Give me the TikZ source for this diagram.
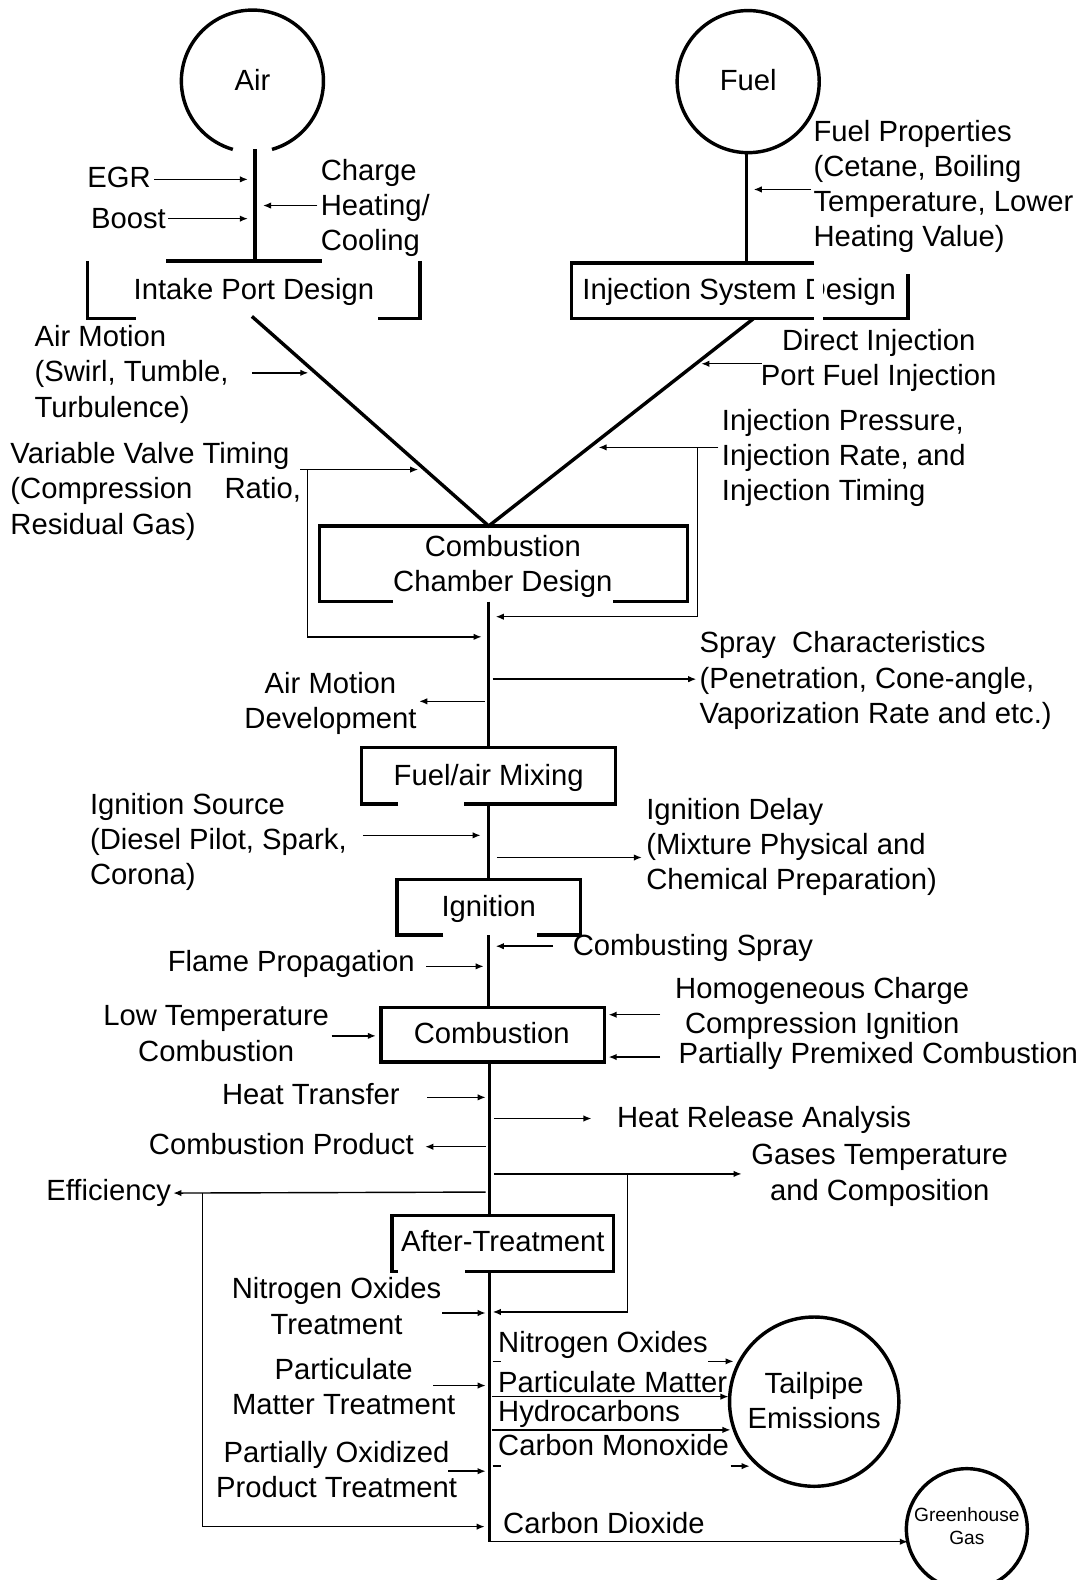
\documentclass[tikz,border=0pt]{standalone}
\usepackage{fontspec}
\setmainfont{Liberation Sans}
\usetikzlibrary{arrows.meta}
\begin{document}
\begin{tikzpicture}[x=0.5pt,y=-0.5pt,
  thick line/.style={line width=1.7pt},
  thin line/.style={line width=0.7pt},
  thin arrow/.style={line width=0.7pt,-{Latex[length=4pt,width=3.2pt]}},
  lbl/.style={inner sep=0pt,font=\fontsize{14.5}{17.5}\selectfont},
  lblL/.style={lbl,align=left,anchor=base west},
  lblR/.style={lbl,align=right,anchor=base east},
  lblC/.style={lbl,align=center,anchor=base},
  ring/.style={circle,draw,thick line,inner sep=0pt}]
\useasboundingbox (0,0) rectangle (1081,1568);
\clip (0,0) rectangle (1081,1568);
% ---- Air ----
\coordinate (airc) at (250.5,80.5);
\draw[thick line] ([shift={(286:35.25pt)}]airc) arc[start angle=286,end angle=614,radius=35.25pt];
\node[lblC] (air) at (250.5,90) {Air};
\draw[thick line] (253,148) -- (253,259);
\draw[thick line] (165,259) -- (320,259);
\draw[thick line] (87,259) -- (87,316) -- (135,316);
\draw[thick line] (417,259) -- (417,316) -- (375,316);
\node[lblC] (intake) at (252,297) {Intake Port Design};
\node[lblR] (egr) at (150,186) {EGR};
\node[lblR] (boost) at (165,227) {Boost};
\node[lblL] (charge) at (318,249) {Charge\\Heating/\\Cooling};
\draw[thin arrow] (153,178) -- (246,178);
\draw[thin arrow] (167,217) -- (246,217);
\draw[thin arrow] (315,204) -- (261,204);
% ---- Fuel ----
\node[ring,minimum size=70.5pt] (fuelc) at (742.5,81) {};
\node[lblC] (fuel) at (742.5,90) {Fuel};
\draw[thick line] (741,151) -- (741,261);
\node[lblL] (fprop) at (807,245) {Fuel Properties\\(Cetane, Boiling\\Temperature, Lower\\Heating Value)};
\draw[thin arrow] (805,188) -- (748,188);
\draw[thick line] (808,261) -- (567,261) -- (567,316) -- (808,316);
\draw[thick line] (817,316) -- (901,316) -- (901,272);
\node[lblC] (inj) at (733.5,297) {Injection System Design};
\fill[white] (808,263) rectangle (817,320);
% ---- V ----
\draw[thick line] (250,314) -- (485,522) -- (748,316);
\node[lblL] (amot) at (34,414) {Air Motion\\(Swirl, Tumble,\\Turbulence)};
\draw[thin arrow] (250,370) -- (306,370);
\node[lblL] (vvt) at (10,530) {Variable Valve Timing\\(Compression\hspace{16pt}Ratio,\\Residual Gas)};
\draw[thin arrow] (298,466) -- (415,466);
\draw[thin arrow] (305,466) -- (305,632) -- (478,632);
\node[lblC] (dinj) at (872,383) {Direct Injection\\Port Fuel Injection};
\draw[thin arrow] (756,361) -- (696,361);
\node[lblL] (ipress) at (716,497) {Injection Pressure,\\Injection Rate, and\\Injection Timing};
\draw[thin arrow] (713,444) -- (594,444);
\draw[thin arrow] (692,444) -- (692,612) -- (492,612);
% ---- Combustion chamber ----
\draw[thick line] (390,597) -- (317,597) -- (317,522) -- (682,522) -- (682,597) -- (608,597);
\node[lblC] (ccd) at (499,587) {Combustion\\Chamber Design};
\draw[thick line] (485,597) -- (485,742);
\node[lblL] (spray) at (694,718) {Spray\hspace{4pt} Characteristics\\(Penetration, Cone-angle,\\Vaporization Rate and etc.)};
\draw[thin arrow] (489,674) -- (691,674);
\node[lblC] (amdev) at (328,723) {Air Motion\\Development};
\draw[thin arrow] (481,696) -- (416,696);
% ---- Mixing ----
\draw[thick line] (395,798) -- (359,798) -- (359,742) -- (611,742) -- (611,798) -- (460,798);
\node[lblC] (mix) at (485,780) {Fuel/air Mixing};
\draw[thick line] (485,798) -- (485,873);
\node[lblL] (isrc) at (89,878) {Ignition Source\\(Diesel Pilot, Spark,\\Corona)};
\draw[thin arrow] (360,829) -- (477,829);
\node[lblL] (idelay) at (641,883) {Ignition Delay\\(Mixture Physical and\\Chemical Preparation)};
\draw[thin arrow] (493,851) -- (637,851);
% ---- Ignition ----
\draw[thick line] (440,928) -- (394,928) -- (394,873) -- (576,873) -- (576,928) -- (533,928);
\node[lblC] (ign) at (485,910) {Ignition};
\draw[thick line] (485,928) -- (485,1000);
\node[lblL] (cspray) at (568,948) {Combusting Spray};
\draw[thin arrow] (549,939) -- (492,939);
\node[lblR] (flame) at (412,964) {Flame Propagation};
\draw[thin arrow] (423,959) -- (480,959);
% ---- Combustion ----
\draw[thick line] (378,1000) rectangle (600,1054);
\node[lblC] (comb) at (488,1036) {Combustion};
\node[lblC] (hcci) at (816,1026) {Homogeneous Charge\\Compression Ignition};
\node[lblL] (ppc) at (673,1055) {Partially Premixed Combustion};
\draw[thin arrow] (655,1007) -- (604,1007);
\draw[thin arrow] (655,1049) -- (604,1049);
\node[lblC] (ltc) at (214.5,1053) {Low Temperature\\Combustion};
\draw[thin arrow] (329,1028) -- (373,1028);
\draw[thick line] (486,1054) -- (486,1206);
\node[lblL] (htrans) at (220,1096) {Heat Transfer};
\draw[thin arrow] (424,1089) -- (482,1089);
\node[lblL] (hrel) at (612,1119) {Heat Release Analysis};
\draw[thin arrow] (490,1110) -- (587,1110);
\node[lblR] (cprod) at (411,1146) {Combustion Product};
\draw[thin arrow] (482,1138) -- (422,1138);
\node[lblC] (gtemp) at (873,1191) {Gases Temperature\\and Composition};
\draw[thin arrow] (490,1165) -- (736,1165);
\draw[thin arrow] (623,1165) -- (623,1302) -- (489,1302);
\node[lblR] (eff) at (170,1191) {Efficiency};
\draw[thin arrow] (482,1183) -- (172,1184);
\draw[thin arrow] (201,1184) -- (201,1515) -- (481,1515);
% ---- After-treatment ----
\draw[thick line] (395,1262) -- (389,1262) -- (389,1206) -- (609,1206) -- (609,1262) -- (461,1262);
\node[lblC] (after) at (499,1242) {After-Treatment};
\draw[thick line] (486,1262) -- (486,1530);
\node[lblC] (noxt) at (334,1324) {Nitrogen Oxides\\Treatment};
\draw[thin arrow] (439,1303) -- (482,1303);
\node[lblC] (pmt) at (341,1404) {Particulate\\Matter Treatment};
\draw[thin arrow] (430,1375) -- (482,1375);
\node[lblC] (pot) at (334,1486) {Partially Oxidized\\Product Treatment};
\draw[thin arrow] (445,1460) -- (482,1460);
% ---- Emissions ----
\node[ring,minimum size=84pt] (tail) at (808,1391) {};
\node[lblC] (tailt) at (808,1418) {Tailpipe\\Emissions};
\node[lblL] (nox) at (494,1342) {Nitrogen Oxides};
\node[lblL] (pm) at (494,1382) {Particulate Matter};
\node[lblL] (hc) at (494,1411) {Hydrocarbons};
\node[lblL] (co) at (494,1444) {Carbon Monoxide};
\node[lblL] (co2) at (499,1522) {Carbon Dioxide};
\draw[thin line] (489,1351) -- (497,1351);
\draw[thin arrow] (703,1351) -- (728,1351);
\draw[thin arrow] (488,1386) -- (723,1386);
\draw[thin arrow] (488,1419) -- (725,1419);
\draw[thin line] (489,1455) -- (497,1455);
\draw[thin arrow] (725,1455) -- (744,1455);
\node[ring,minimum size=60pt] (gg) at (959.5,1517.5) {};
\node[lbl,font=\fontsize{9.5}{11.5}\selectfont,align=center,anchor=base] (ggt) at (959.5,1533) {Greenhouse\\Gas};
\coordinate (ggin) at (901,1530);
\draw[thin arrow] (486,1530) -- (ggin);
\end{tikzpicture}
\end{document}
